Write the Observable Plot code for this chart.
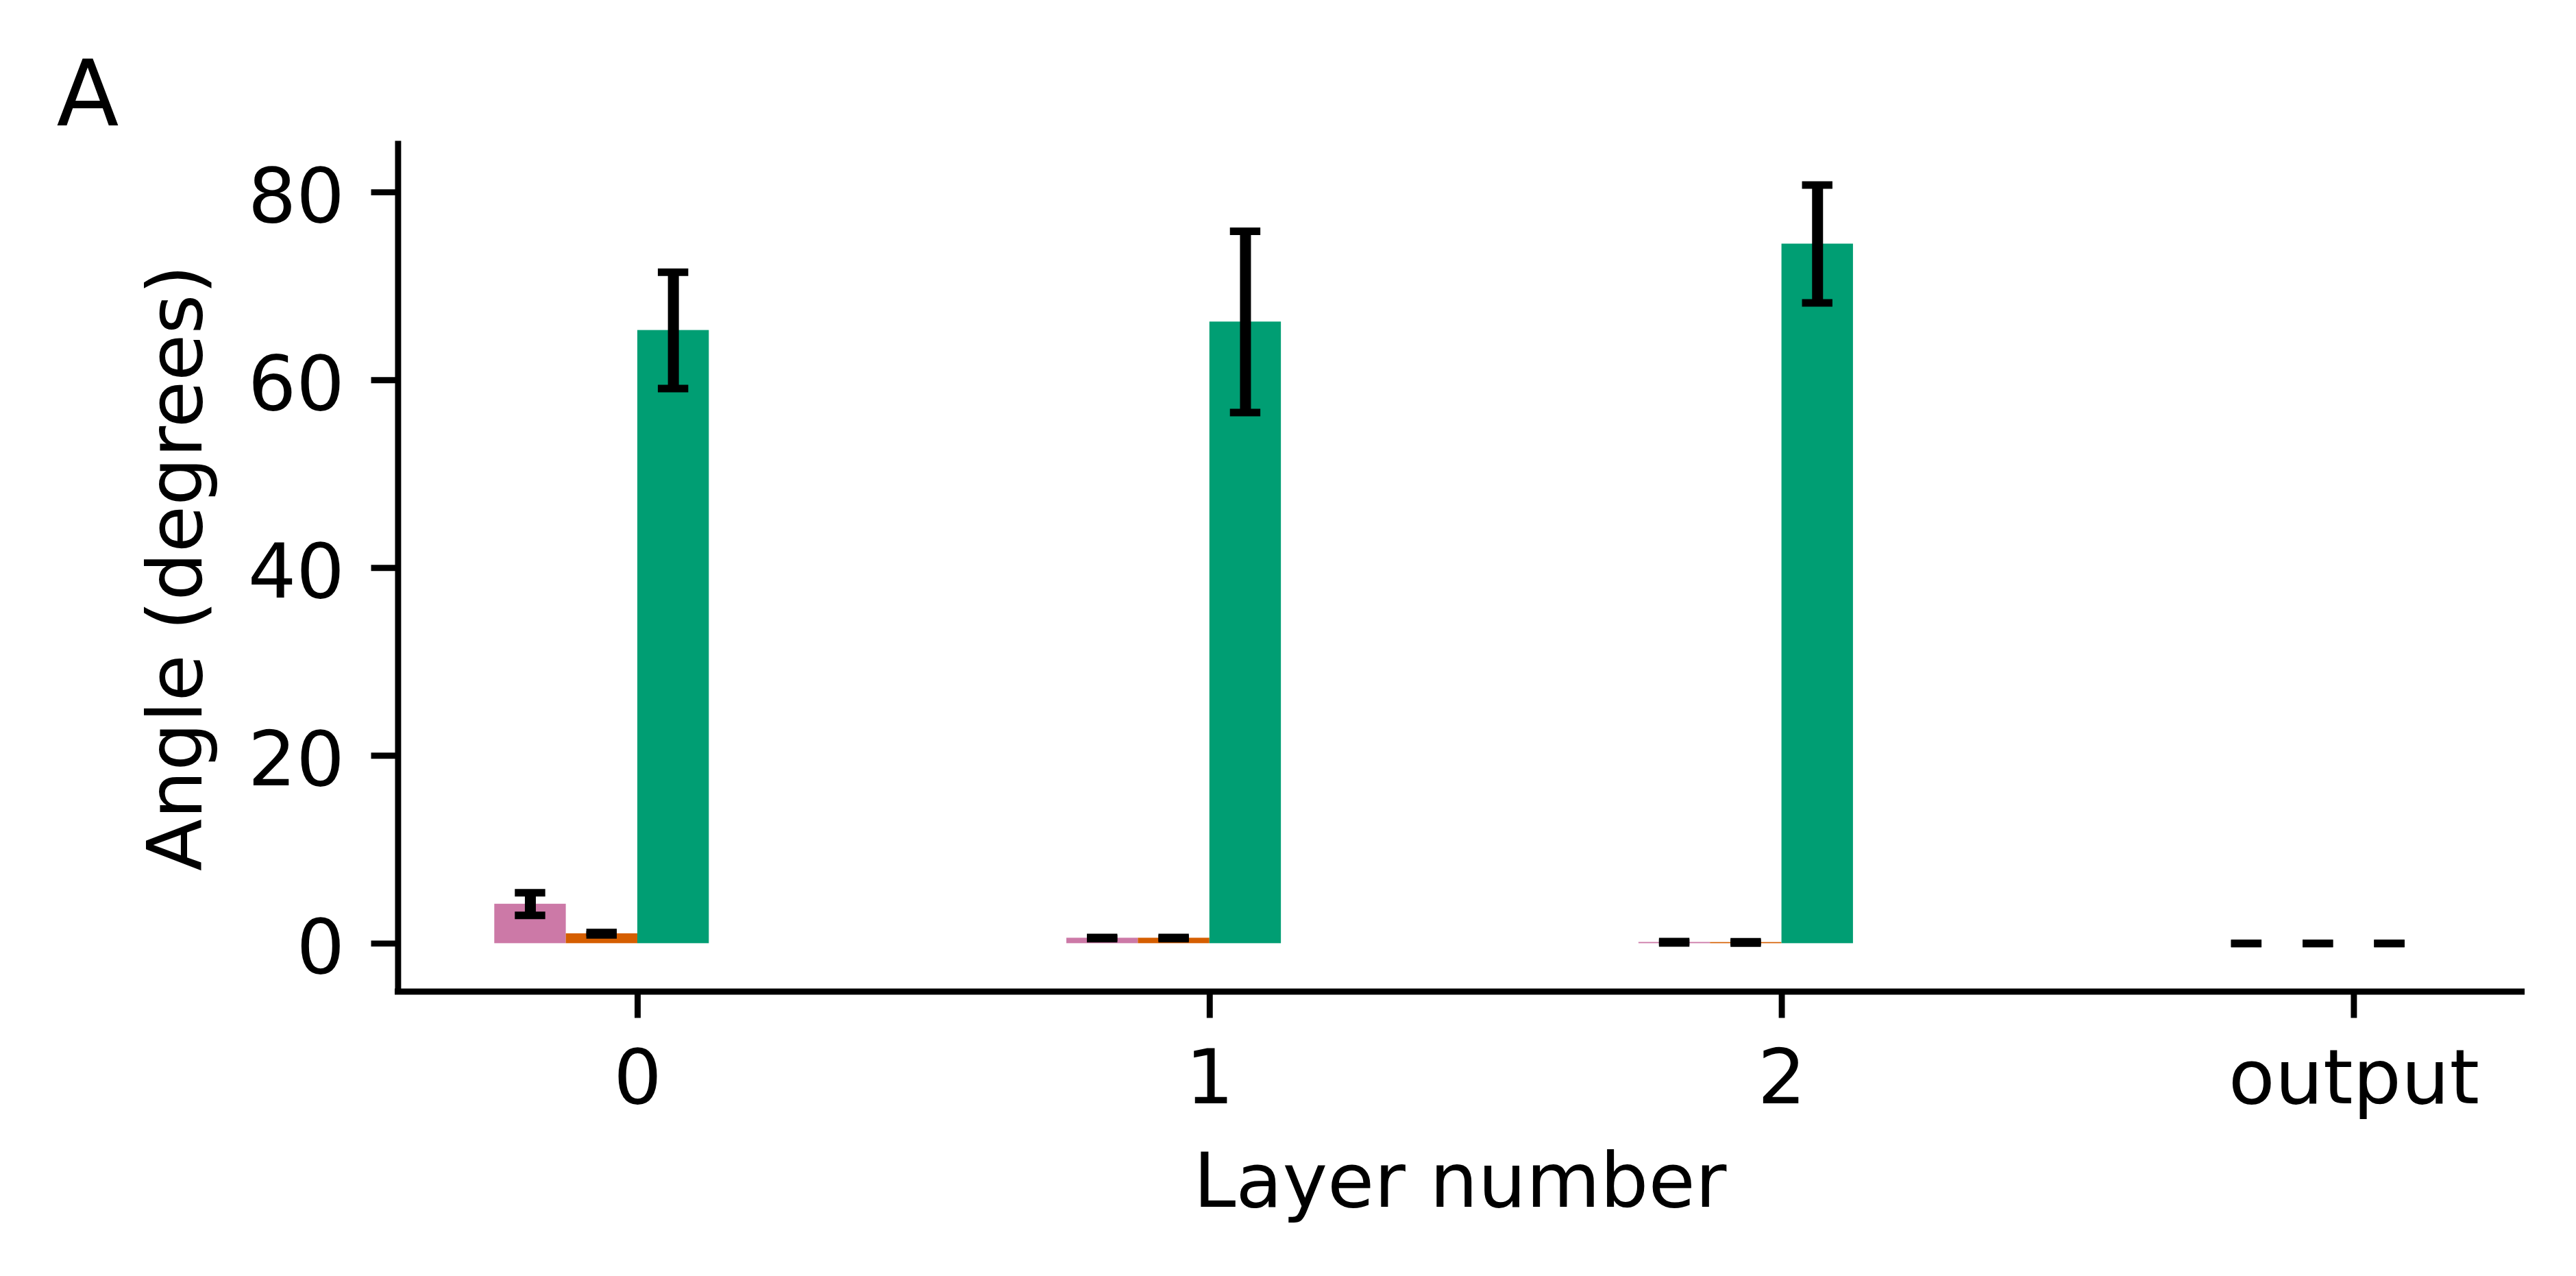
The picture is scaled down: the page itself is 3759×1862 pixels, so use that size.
<!DOCTYPE html>
<html>
<head>
<meta charset="utf-8">
<script src="https://cdn.jsdelivr.net/npm/d3@7"></script>
<script src="https://cdn.jsdelivr.net/npm/@observablehq/plot@0.6"></script>
<style>
  html, body { margin: 0; padding: 0; background: #ffffff; }
  #chart { width: 3759px; height: 1862px; }
</style>
</head>
<body>
<div id="chart"></div>
<script>
// ---- data ----
const layers = ["0", "1", "2", "output"];
const seriesNames = ["series 1", "series 2", "series 3"];
const seriesColors = ["#CC79A7", "#D55E00", "#009E73"];
const means1 = [4.2, 0.58, 0.13, 0];
const errs1  = [1.2, 0.07, 0.07, 0];
const means2 = [1.05, 0.58, 0.12, 0];
const errs2  = [0.13, 0.07, 0.07, 0];
const means3 = [65.3, 66.2, 74.5, 0];
const errs3  = [6.2, 9.66, 6.28, 0];
const yTicks = [0, 20, 40, 60, 80];
const yLabel = "Angle (degrees)";
const xLabel = "Layer number";
const panelLabel = "A";

// ---- layout ----
const W = 3759, H = 1862;
const mL = 580.4, mR = 3759 - 3679.6, mT = 210, mB = 1862 - 1446.5;
const barW = 0.125;
const xDomain = [-0.41875, 3.29375];
const yDomain = [-5.12, 85.12];
const pxPerX = (W - mL - mR) / (xDomain[1] - xDomain[0]);
const capHalf = 22.2 / pxPerX;
const lw = 8.9;

const means = [means1, means2, means3];
const errs = [errs1, errs2, errs3];
const rows = [];
seriesNames.forEach((s, si) => {
  layers.forEach((l, li) => {
    const x1 = li + (si - 2) * barW;
    rows.push({series: s, layer: l, x1, x2: x1 + barW, xc: x1 + barW / 2,
               mean: means[si][li], err: errs[si][li]});
  });
});

const chart = Plot.plot({
  width: W,
  height: H,
  marginLeft: mL,
  marginRight: mR,
  marginTop: mT,
  marginBottom: mB,
  style: {fontFamily: "DejaVu Sans", fontSize: "111px", color: "black", background: "white"},
  x: {type: "linear", domain: xDomain},
  y: {type: "linear", domain: yDomain},
  color: {type: "ordinal", domain: seriesNames, range: seriesColors},
  marks: [
    Plot.rect(rows, {x1: "x1", x2: "x2", y1: 0, y2: "mean", fill: "series"}),
    Plot.ruleX(rows, {x: "xc", y1: d => d.mean - d.err, y2: d => d.mean + d.err, stroke: "black", strokeWidth: 16}),
    Plot.ruleY(rows, {y: d => d.mean + d.err, x1: d => d.xc - capHalf, x2: d => d.xc + capHalf, stroke: "black", strokeWidth: 11}),
    Plot.ruleY(rows, {y: d => d.mean - d.err, x1: d => d.xc - capHalf, x2: d => d.xc + capHalf, stroke: "black", strokeWidth: 11}),
    // spines
    Plot.ruleX([xDomain[0]], {y1: yDomain[0], y2: yDomain[1], stroke: "black", strokeWidth: lw, strokeLinecap: "square"}),
    Plot.ruleY([yDomain[0]], {x1: xDomain[0], x2: xDomain[1], stroke: "black", strokeWidth: lw, strokeLinecap: "square"}),
    // x axis
    Plot.axisX({ticks: [0, 1, 2, 3], tickFormat: i => layers[i], tickSize: 38.9, tickPadding: 45,
                strokeWidth: lw, label: null, fontSize: 111}),
    // y axis ticks
    Plot.axisY({ticks: yTicks, tickFormat: () => "", tickSize: 38.9, strokeWidth: lw, label: null}),
    // y axis labels
    Plot.axisY({ticks: yTicks, tickSize: 0, tickPadding: 38.9 + 39, dy: 7.5, label: null, fontSize: 111}),
    // axis titles
    Plot.text([yLabel], {text: d => d, frameAnchor: "left", rotate: -90, dx: 293 - mL,
                         textAnchor: "middle", lineAnchor: "bottom", fontSize: 111, fill: "black"}),
    Plot.text([xLabel], {text: d => d, frameAnchor: "bottom", dy: 1760 - (H - mB),
                         textAnchor: "middle", lineAnchor: "bottom", fontSize: 111, fill: "black"}),
    Plot.text([panelLabel], {text: d => d, frameAnchor: "top-left", dx: 82 - mL, dy: 182 - mT,
                             textAnchor: "start", lineAnchor: "bottom", fontSize: 133, fill: "black"})
  ]
});
document.getElementById("chart").append(chart);
</script>
</body>
</html>
